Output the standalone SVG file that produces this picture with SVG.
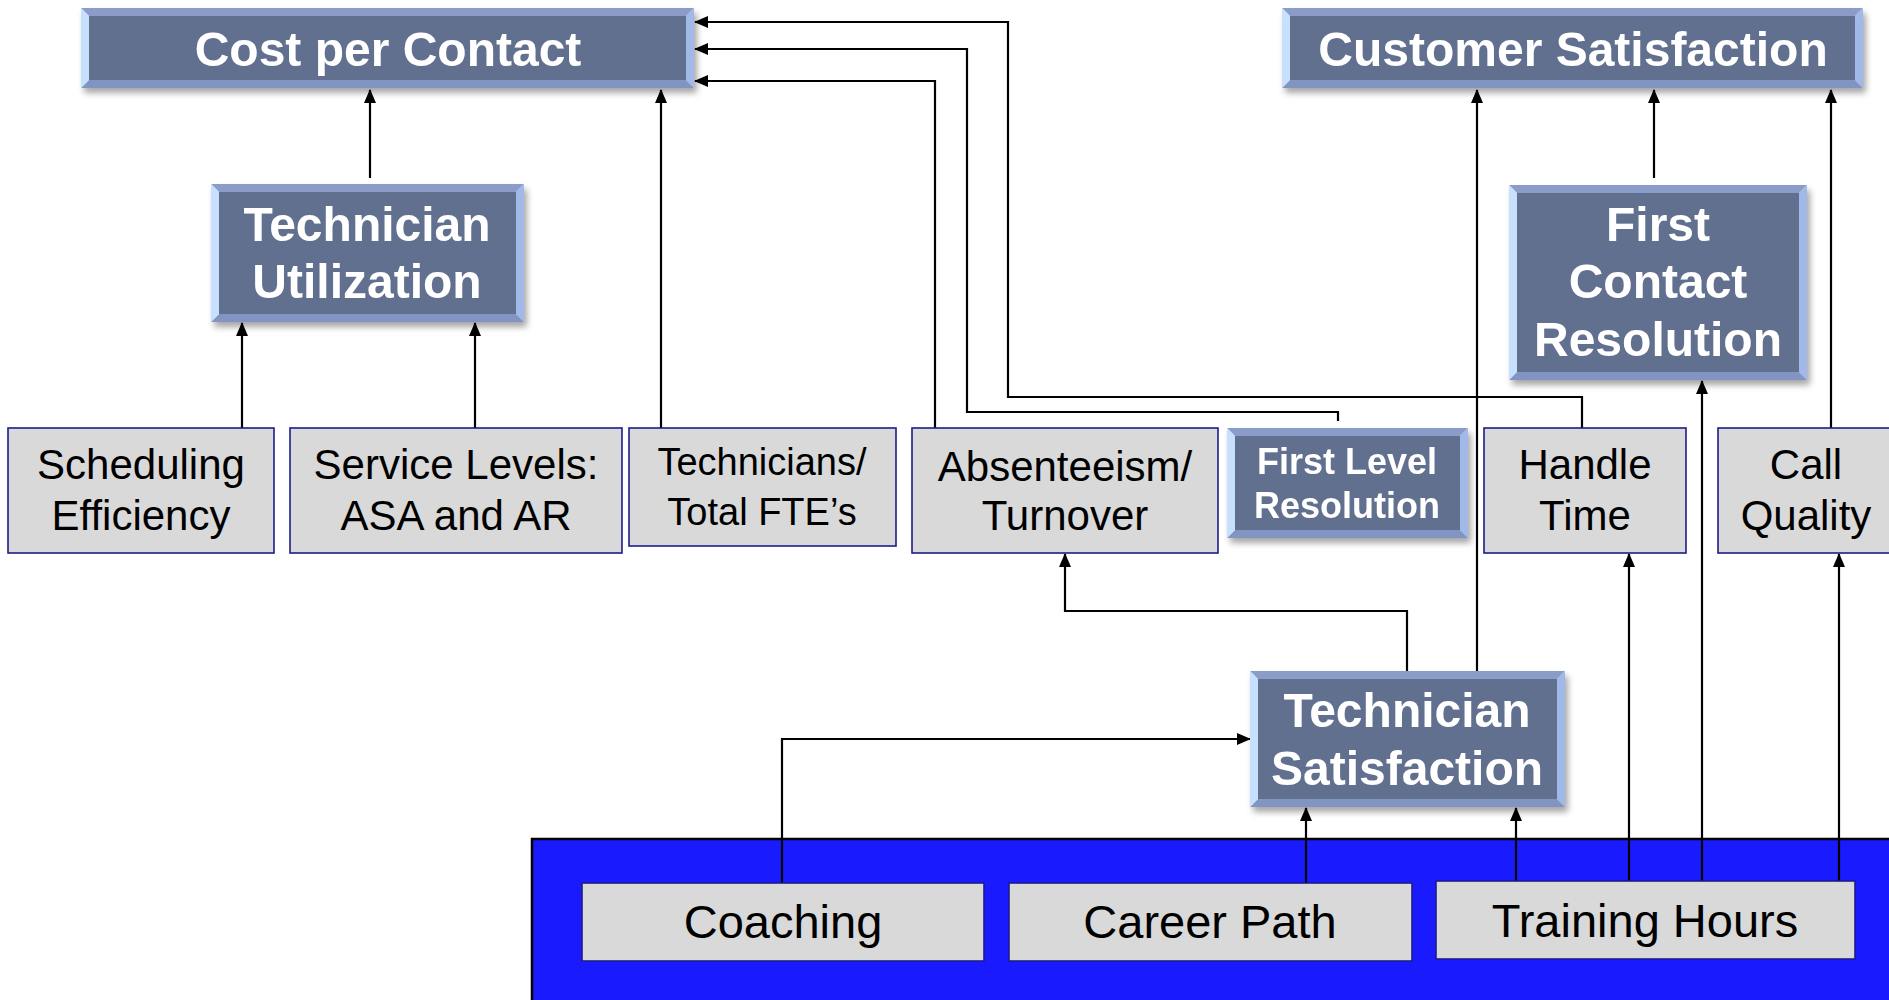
<svg xmlns="http://www.w3.org/2000/svg" width="1889" height="1000" viewBox="0 0 1889 1000">
<style>
.bt{fill:#8a9cc7}.bb{fill:#8294c1}.bl{fill:#c6e0fe}.br{fill:#a0b9e8}.bf{fill:#627090}
.bx{filter:url(#sh)}
.tw{font-family:"Liberation Sans",Arial,sans-serif;font-weight:bold;fill:#ffffff;text-anchor:middle}
.tb{font-family:"Liberation Sans",Arial,sans-serif;fill:#000000;text-anchor:middle}
.gb{fill:#d9d9d9;stroke:#1c1c8a;stroke-width:1.6}
.c{fill:none;stroke:#000;stroke-width:2.2;marker-end:url(#ah)}
</style>
<defs>
<filter id="sh" x="-10%" y="-10%" width="125%" height="135%">
<feDropShadow dx="3" dy="5" stdDeviation="3" flood-color="#000" flood-opacity="0.35"/>
</filter>
<marker id="ah" markerUnits="userSpaceOnUse" markerWidth="14" markerHeight="12" refX="13" refY="6" orient="auto">
<path d="M0,0 L14,6 L0,12 z" fill="#000"/>
</marker>
</defs>
<rect width="1889" height="1000" fill="#ffffff"/>
<rect id="region" x="532" y="839" width="1370" height="175" fill="#1a1aff" stroke="#000" stroke-width="2.5"/>

<g id="connectors">
<path class="c" d="M370,178 V90"/>
<path class="c" d="M242,428 V323"/>
<path class="c" d="M475,428 V323"/>
<path class="c" d="M661,428 V90"/>
<path class="c" d="M935,428 V81 H695"/>
<path class="c" d="M1338,421 V412 H967 V49 H695"/>
<path class="c" d="M1582,428 V397 H1008 V22 H695"/>
<path class="c" d="M1407,671 V611 H1065 V554"/>
<path class="c" d="M1477,671 V90"/>
<path class="c" d="M1654,178 V90"/>
<path class="c" d="M1831,428 V90"/>
<path class="c" d="M782,883 V739 H1250"/>
<path class="c" d="M1306,883 V808"/>
<path class="c" d="M1516,881 V808"/>
<path class="c" d="M1629,881 V554"/>
<path class="c" d="M1702,881 V381"/>
<path class="c" d="M1839,881 V554"/>
</g>

<g id="cost-per-contact" class="bx">
<polygon class="bt" points="81,8 694,8 686,16 89,16"/>
<polygon class="bb" points="81,88 694,88 686,80 89,80"/>
<polygon class="bl" points="81,8 89,16 89,80 81,88"/>
<polygon class="br" points="694,8 686,16 686,80 694,88"/>
<rect class="bf" x="89" y="16" width="597" height="64"/>
<text class="tw" x="388" y="66" font-size="48">Cost per Contact</text>
</g>

<g id="customer-satisfaction" class="bx">
<polygon class="bt" points="1282,8 1863,8 1855,16 1290,16"/>
<polygon class="bb" points="1282,88 1863,88 1855,80 1290,80"/>
<polygon class="bl" points="1282,8 1290,16 1290,80 1282,88"/>
<polygon class="br" points="1863,8 1855,16 1855,80 1863,88"/>
<rect class="bf" x="1290" y="16" width="565" height="64"/>
<text class="tw" x="1573" y="66" font-size="48">Customer Satisfaction</text>
</g>

<g id="technician-utilization" class="bx">
<polygon class="bt" points="211,184 524,184 516,192 219,192"/>
<polygon class="bb" points="211,322 524,322 516,314 219,314"/>
<polygon class="bl" points="211,184 219,192 219,314 211,322"/>
<polygon class="br" points="524,184 516,192 516,314 524,322"/>
<rect class="bf" x="219" y="192" width="297" height="122"/>
<text class="tw" x="367" y="241" font-size="48">Technician</text>
<text class="tw" x="367" y="298" font-size="48">Utilization</text>
</g>

<g id="first-contact-resolution" class="bx">
<polygon class="bt" points="1509,185 1807,185 1799,193 1517,193"/>
<polygon class="bb" points="1509,380 1807,380 1799,372 1517,372"/>
<polygon class="bl" points="1509,185 1517,193 1517,372 1509,380"/>
<polygon class="br" points="1807,185 1799,193 1799,372 1807,380"/>
<rect class="bf" x="1517" y="193" width="282" height="179"/>
<text class="tw" x="1658" y="241" font-size="48">First</text>
<text class="tw" x="1658" y="298" font-size="48">Contact</text>
<text class="tw" x="1658" y="356" font-size="48">Resolution</text>
</g>

<g id="first-level-resolution" class="bx">
<polygon class="bt" points="1227,428 1468,428 1460,436 1235,436"/>
<polygon class="bb" points="1227,538 1468,538 1460,530 1235,530"/>
<polygon class="bl" points="1227,428 1235,436 1235,530 1227,538"/>
<polygon class="br" points="1468,428 1460,436 1460,530 1468,538"/>
<rect class="bf" x="1235" y="436" width="225" height="94"/>
<text class="tw" x="1347" y="474" font-size="36">First Level</text>
<text class="tw" x="1347" y="518" font-size="36">Resolution</text>
</g>

<g id="technician-satisfaction" class="bx">
<polygon class="bt" points="1250,671 1565,671 1557,679 1258,679"/>
<polygon class="bb" points="1250,807 1565,807 1557,799 1258,799"/>
<polygon class="bl" points="1250,671 1258,679 1258,799 1250,807"/>
<polygon class="br" points="1565,671 1557,679 1557,799 1565,807"/>
<rect class="bf" x="1258" y="679" width="299" height="120"/>
<text class="tw" x="1407" y="727" font-size="48">Technician</text>
<text class="tw" x="1407" y="785" font-size="48">Satisfaction</text>
</g>

<g id="scheduling-efficiency">
<rect class="gb" x="8" y="428" width="266" height="125"/>
<text class="tb" x="141" y="479" font-size="42">Scheduling</text>
<text class="tb" x="141" y="530" font-size="42">Efficiency</text>
</g>

<g id="service-levels">
<rect class="gb" x="290" y="428" width="332" height="125"/>
<text class="tb" x="456" y="479" font-size="42">Service Levels:</text>
<text class="tb" x="456" y="530" font-size="42">ASA and AR</text>
</g>

<g id="technicians-fte">
<rect class="gb" x="629" y="428" width="267" height="118"/>
<text class="tb" x="762" y="475" font-size="38">Technicians/</text>
<text class="tb" x="762" y="525" font-size="38">Total FTE’s</text>
</g>

<g id="absenteeism">
<rect class="gb" x="912" y="428" width="306" height="125"/>
<text class="tb" x="1065" y="481" font-size="42">Absenteeism/</text>
<text class="tb" x="1065" y="530" font-size="42">Turnover</text>
</g>

<g id="handle-time">
<rect class="gb" x="1484" y="428" width="202" height="125"/>
<text class="tb" x="1585" y="479" font-size="42">Handle</text>
<text class="tb" x="1585" y="530" font-size="42">Time</text>
</g>

<g id="call-quality">
<rect class="gb" x="1718" y="428" width="180" height="125"/>
<text class="tb" x="1806" y="479" font-size="42">Call</text>
<text class="tb" x="1806" y="530" font-size="42">Quality</text>
</g>

<g id="coaching">
<rect class="gb" x="582" y="883" width="402" height="78"/>
<text class="tb" x="783" y="938" font-size="47">Coaching</text>
</g>

<g id="career-path">
<rect class="gb" x="1009" y="883" width="403" height="78"/>
<text class="tb" x="1210" y="938" font-size="47">Career Path</text>
</g>

<g id="training-hours">
<rect class="gb" x="1436" y="881" width="419" height="78"/>
<text class="tb" x="1645" y="937" font-size="47">Training Hours</text>
</g>
</svg>
